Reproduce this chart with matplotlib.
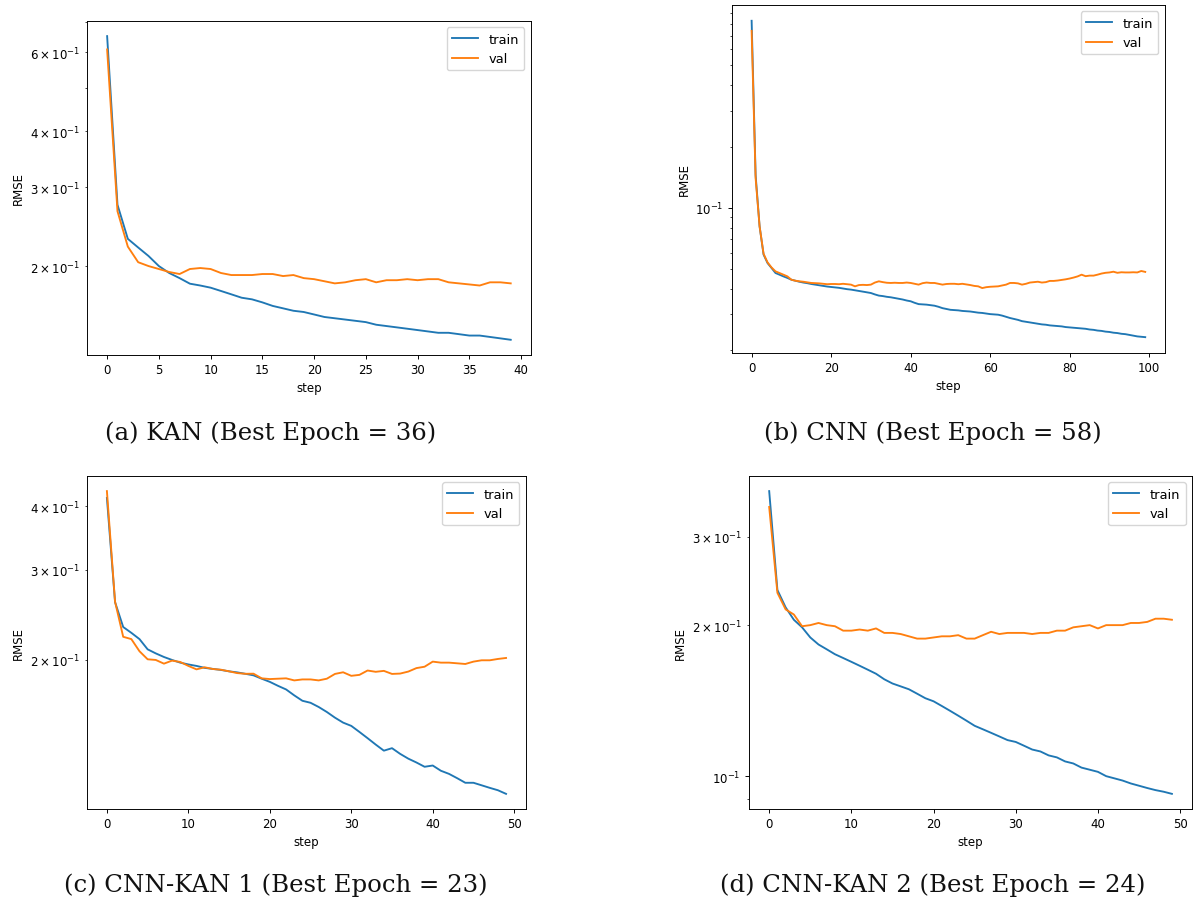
import matplotlib
matplotlib.use("Agg")
import matplotlib.pyplot as plt

# ---------------- data ----------------
kan_train = [0.651, 0.274, 0.230, 0.220, 0.2106, 0.200, 0.193, 0.188, 0.1827, 0.181,
             0.179, 0.176, 0.173, 0.170, 0.1686, 0.166, 0.163, 0.161, 0.159, 0.158,
             0.156, 0.154, 0.153, 0.152, 0.151, 0.150, 0.148, 0.147, 0.146, 0.145,
             0.144, 0.143, 0.142, 0.142, 0.141, 0.140, 0.140, 0.139, 0.138, 0.137]
kan_val = [0.608, 0.265, 0.221, 0.204, 0.200, 0.197, 0.194, 0.192, 0.197, 0.198,
           0.197, 0.193, 0.191, 0.191, 0.191, 0.192, 0.192, 0.190, 0.191, 0.188,
           0.187, 0.185, 0.183, 0.184, 0.186, 0.187, 0.184, 0.186, 0.186, 0.187,
           0.186, 0.187, 0.187, 0.184, 0.183, 0.182, 0.181, 0.184, 0.184, 0.183]

cnn_train = [0.828, 0.145, 0.0812, 0.0590, 0.0536, 0.0507, 0.0479, 0.0470, 0.0461, 0.0453,
             0.0444, 0.0439, 0.0434, 0.0430, 0.0427, 0.0423, 0.0420, 0.0417, 0.0414, 0.0411,
             0.0409, 0.0407, 0.0405, 0.0402, 0.0399, 0.0397, 0.0394, 0.0391, 0.0388, 0.0385,
             0.0382, 0.0376, 0.0371, 0.0369, 0.0366, 0.0364, 0.0361, 0.0358, 0.0355, 0.0351,
             0.0348, 0.0342, 0.0337, 0.0336, 0.0335, 0.0333, 0.0331, 0.0327, 0.0322, 0.0319,
             0.0316, 0.0315, 0.0314, 0.0312, 0.0311, 0.0310, 0.0308, 0.0306, 0.0305, 0.0303,
             0.0301, 0.0300, 0.0299, 0.0296, 0.0292, 0.0288, 0.0285, 0.0282, 0.0278, 0.0276,
             0.0274, 0.0272, 0.0270, 0.0268, 0.0267, 0.0265, 0.0264, 0.0263, 0.0262, 0.0260,
             0.0259, 0.0258, 0.0257, 0.0256, 0.0255, 0.0253, 0.0252, 0.0250, 0.0249, 0.0247,
             0.0246, 0.0244, 0.0243, 0.0241, 0.0240, 0.0238, 0.0236, 0.0234, 0.0233, 0.0232]
cnn_val = [0.739, 0.140, 0.0812, 0.0595, 0.0540, 0.0510, 0.0488, 0.0479, 0.0470, 0.0461,
           0.0444, 0.0439, 0.0436, 0.0434, 0.0431, 0.0428, 0.0427, 0.0426, 0.0424, 0.0422,
           0.0423, 0.0423, 0.0422, 0.0424, 0.0422, 0.0420, 0.0412, 0.0418, 0.0419, 0.0418,
           0.0420, 0.0430, 0.0436, 0.0432, 0.0429, 0.0428, 0.0429, 0.0428, 0.0428, 0.0430,
           0.0428, 0.0424, 0.0420, 0.0427, 0.0430, 0.0428, 0.0428, 0.0424, 0.0420, 0.0423,
           0.0424, 0.0424, 0.0422, 0.0424, 0.0421, 0.0418, 0.0414, 0.0412, 0.0404, 0.0408,
           0.0410, 0.0411, 0.0412, 0.0416, 0.0420, 0.0428, 0.0428, 0.0426, 0.0420, 0.0424,
           0.0430, 0.0432, 0.0434, 0.0430, 0.0432, 0.0438, 0.0438, 0.0440, 0.0443, 0.0446,
           0.0450, 0.0455, 0.0461, 0.0470, 0.0462, 0.0465, 0.0465, 0.0470, 0.0476, 0.0480,
           0.0482, 0.0486, 0.0480, 0.0483, 0.0482, 0.0482, 0.0483, 0.0482, 0.0490, 0.0485]

ck1_train = [0.415, 0.2595, 0.232, 0.226, 0.2197, 0.2098, 0.206, 0.2027, 0.200, 0.1976,
             0.196, 0.1947, 0.193, 0.1921, 0.1912, 0.190, 0.1891, 0.1879, 0.1866, 0.1838,
             0.1812, 0.178, 0.1751, 0.1705, 0.1664, 0.1649, 0.1618, 0.1582, 0.1542, 0.1508,
             0.1486, 0.1446, 0.1406, 0.1366, 0.1329, 0.1344, 0.131, 0.1282, 0.126, 0.1236,
             0.1243, 0.1214, 0.1197, 0.1174, 0.115, 0.115, 0.1137, 0.1124, 0.1112, 0.1094]
ck1_val = [0.428, 0.260, 0.222, 0.2197, 0.208, 0.2006, 0.200, 0.1967, 0.1994, 0.1982,
           0.1947, 0.1917, 0.1935, 0.1920, 0.1914, 0.1900, 0.1885, 0.1879, 0.188, 0.1841,
           0.1835, 0.1838, 0.1841, 0.1824, 0.1832, 0.1832, 0.1824, 0.1838, 0.1878, 0.1892,
           0.1862, 0.1870, 0.1907, 0.1896, 0.1904, 0.1878, 0.1881, 0.1898, 0.1928, 0.194,
           0.1985, 0.1976, 0.1976, 0.1970, 0.1964, 0.1985, 0.1997, 0.1997, 0.2009, 0.2018]

ck2_train = [0.370, 0.235, 0.217, 0.205, 0.198, 0.189, 0.183, 0.179, 0.175, 0.172,
             0.169, 0.166, 0.163, 0.160, 0.156, 0.153, 0.151, 0.149, 0.146, 0.143,
             0.141, 0.138, 0.135, 0.132, 0.129, 0.126, 0.124, 0.122, 0.120, 0.118,
             0.117, 0.115, 0.113, 0.112, 0.110, 0.109, 0.107, 0.106, 0.104, 0.103,
             0.102, 0.100, 0.0990, 0.0980, 0.0967, 0.0957, 0.0947, 0.0938, 0.0931, 0.0922]
ck2_val = [0.344, 0.232, 0.215, 0.210, 0.199, 0.200, 0.202, 0.200, 0.199, 0.195,
           0.195, 0.196, 0.195, 0.197, 0.193, 0.193, 0.192, 0.190, 0.188, 0.188,
           0.189, 0.190, 0.190, 0.191, 0.188, 0.188, 0.191, 0.194, 0.192, 0.193,
           0.193, 0.193, 0.192, 0.193, 0.193, 0.195, 0.195, 0.198, 0.199, 0.200,
           0.197, 0.200, 0.200, 0.200, 0.202, 0.202, 0.203, 0.206, 0.206, 0.205]

captions = ["(a) KAN (Best Epoch = 36)", "(b) CNN (Best Epoch = 58)",
            "(c) CNN-KAN 1 (Best Epoch = 23)", "(d) CNN-KAN 2 (Best Epoch = 24)"]
series = [(kan_train, kan_val), (cnn_train, cnn_val),
          (ck1_train, ck1_val), (ck2_train, ck2_val)]

# ---------------- style ----------------
s = 0.85
plt.rcParams.update({
    "font.size": 10 * s,
    "axes.linewidth": 0.8 * s,
    "xtick.major.width": 0.8 * s,
    "ytick.major.width": 0.8 * s,
    "xtick.minor.width": 0.6 * s,
    "ytick.minor.width": 0.6 * s,
    "xtick.major.size": 3.5 * s,
    "ytick.major.size": 3.5 * s,
    "xtick.minor.size": 2 * s,
    "ytick.minor.size": 2 * s,
    "xtick.major.pad": 3.5 * s,
    "ytick.major.pad": 3.5 * s,
    "lines.linewidth": 1.35,
    "legend.fontsize": 9.4,
})

fig = plt.figure(figsize=(11.96, 9.03), dpi=100)
rects = [
    (0.0727, 0.6058, 0.3712, 0.3699),
    (0.6120, 0.6080, 0.3620, 0.3854),
    (0.0727, 0.1030, 0.3671, 0.3688),
    (0.6263, 0.1030, 0.3704, 0.3688),
]
cap_pos = [(0.2266, 0.5205), (0.7796, 0.5205), (0.2308, 0.020), (0.7800, 0.020)]

for rect, (tr, va), cap, cp in zip(rects, series, captions, cap_pos):
    ax = fig.add_axes(rect)
    ax.plot(range(len(tr)), tr, label="train", color="#1f77b4")
    ax.plot(range(len(va)), va, label="val", color="#ff7f0e")
    ax.set_yscale("log")
    ax.set_xlabel("step", labelpad=4 * s)
    ax.set_ylabel("RMSE", labelpad=4 * s)
    ax.legend(loc="upper right")
    fig.text(cp[0], cp[1], cap, ha="center", va="center",
             family="DejaVu Serif", fontsize=17.6, color="#111111")

fig.savefig("out.png", dpi=100)
